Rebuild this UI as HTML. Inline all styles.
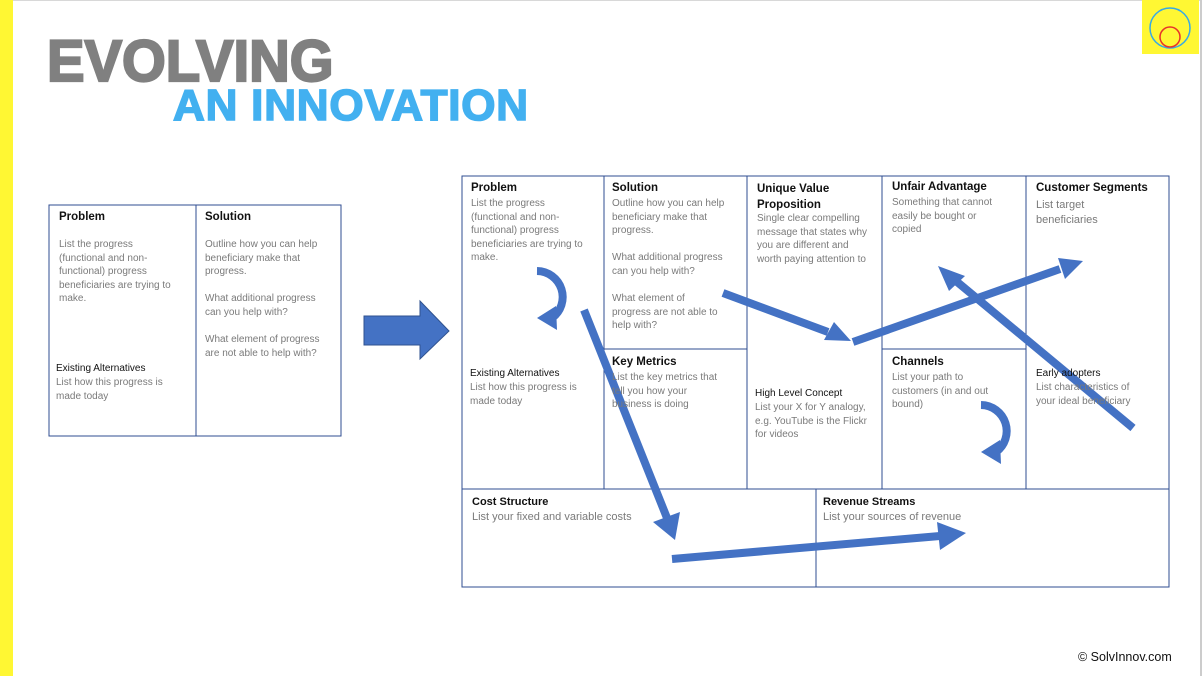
<!DOCTYPE html>
<html><head><meta charset="utf-8"><style>
body{margin:0;width:1202px;height:676px;overflow:hidden;background:#fff;position:relative;font-family:"Liberation Sans",sans-serif}
.t{position:absolute;font-size:10px;line-height:13.6px;color:#7a7a7a;white-space:nowrap}
.h{position:absolute;font-size:11.5px;font-weight:bold;color:#111;white-space:nowrap}
.s{position:absolute;font-size:10px;color:#111;white-space:nowrap}
</style></head><body>
<div style="position:absolute;left:0;top:0;width:1202px;height:1px;background:#d8d8d8"></div>
<div style="position:absolute;left:0;top:0;width:13px;height:676px;background:#fff733"></div>
<div style="position:absolute;right:0;top:0;width:2px;height:676px;background:#ccc"></div>
<div style="position:absolute;left:47px;top:27px;font-size:58px;line-height:1.2;font-weight:bold;color:#808080;letter-spacing:0px;-webkit-text-stroke:2.2px #808080;transform:scaleX(0.97);transform-origin:left;white-space:nowrap">EVOLVING</div>
<div style="position:absolute;left:173px;top:80px;font-size:44px;line-height:1.2;font-weight:bold;color:#42b0f0;letter-spacing:0.8px;-webkit-text-stroke:1.6px #42b0f0;white-space:nowrap">AN INNOVATION</div>
<div style="position:absolute;left:1142px;top:0;width:57px;height:54px;background:#fff733"></div>
<svg width="1202" height="676" style="position:absolute;left:0;top:0">
<circle cx="1170" cy="28" r="20" fill="none" stroke="#36a9e6" stroke-width="1.5"/>
<circle cx="1170" cy="37" r="10" fill="none" stroke="#e8332a" stroke-width="1.5"/>
<g fill="none" stroke="#2f4d92" stroke-width="1">
<rect x="49" y="205" width="292" height="231"/>
<line x1="196" y1="205" x2="196" y2="436"/>
<rect x="462" y="176" width="707" height="313"/>
<line x1="604" y1="176" x2="604" y2="489"/>
<line x1="747" y1="176" x2="747" y2="489"/>
<line x1="882" y1="176" x2="882" y2="489"/>
<line x1="1026" y1="176" x2="1026" y2="489"/>
<line x1="604" y1="349" x2="747" y2="349"/>
<line x1="882" y1="349" x2="1026" y2="349"/>
<rect x="462" y="489" width="707" height="98"/>
<line x1="816" y1="489" x2="816" y2="587"/>
</g>
<polygon points="364,316 420,316 420,301 449,331 420,359 420,345 364,345" fill="#4472c4" stroke="#2f528f" stroke-width="1"/>
<g stroke="#4472c4" stroke-width="8" fill="none">
<line x1="584" y1="310" x2="667" y2="518"/>
<line x1="672" y1="559" x2="940" y2="536"/>
<line x1="723" y1="293" x2="828" y2="332"/>
<line x1="853" y1="342" x2="1060" y2="269"/>
<line x1="1133" y1="428" x2="956" y2="281"/>
<path d="M537 271 A26 26 0 0 1 552 318"/>
<path d="M981 405 A26 26 0 0 1 996 452"/>
</g>
<g fill="#4472c4">
<polygon points="675,540 653,522 680,512"/>
<polygon points="966,533 937,522 940,550"/>
<polygon points="851,341 824,340 834,322"/>
<polygon points="1083,261 1058,258 1065,279"/>
<polygon points="938,266 965,276 949,291"/>
<polygon points="537,318 556,306 557,330"/>
<polygon points="981,452 1000,440 1001,464"/>
</g>
</svg>
<div class="h" style="left:59px;top:211px">Problem</div>
<div class="t" style="left:59px;top:238px">List the progress<br>(functional and non-<br>functional) progress<br>beneficiaries are trying to<br>make.</div>
<div class="s" style="left:56px;top:363px">Existing Alternatives</div>
<div class="t" style="left:56px;top:376px">List how this progress is<br>made today</div>
<div class="h" style="left:205px;top:211px">Solution</div>
<div class="t" style="left:205px;top:238px">Outline how you can help<br>beneficiary make that<br>progress.<br><br>What additional progress<br>can you help with?<br><br>What element of progress<br>are not able to help with?</div>

<div class="h" style="left:471px;top:182px">Problem</div>
<div class="t" style="left:471px;top:197px">List the progress<br>(functional and non-<br>functional) progress<br>beneficiaries are trying to<br>make.</div>
<div class="s" style="left:470px;top:368px">Existing Alternatives</div>
<div class="t" style="left:470px;top:381px">List how this progress is<br>made today</div>
<div class="h" style="left:612px;top:182px">Solution</div>
<div class="t" style="left:612px;top:197px">Outline how you can help<br>beneficiary make that<br>progress.<br><br>What additional progress<br>can you help with?<br><br>What element of<br>progress are not able to<br>help with?</div>
<div class="h" style="left:757px;top:181px;line-height:16px">Unique Value<br>Proposition</div>
<div class="t" style="left:757px;top:212px">Single clear compelling<br>message that states why<br>you are different and<br>worth paying attention to</div>
<div class="h" style="left:892px;top:181px">Unfair Advantage</div>
<div class="t" style="left:892px;top:196px">Something that cannot<br>easily be bought or<br>copied</div>
<div class="h" style="left:1036px;top:182px">Customer Segments</div>
<div class="t" style="left:1036px;top:198px;font-size:11px;line-height:15px">List target<br>beneficiaries</div>
<div class="h" style="left:612px;top:356px">Key Metrics</div>
<div class="t" style="left:612px;top:371px">List the key metrics that<br>tell you how your<br>business is doing</div>
<div class="s" style="left:755px;top:388px">High Level Concept</div>
<div class="t" style="left:755px;top:401px">List your X for Y analogy,<br>e.g. YouTube is the Flickr<br>for videos</div>
<div class="h" style="left:892px;top:356px">Channels</div>
<div class="t" style="left:892px;top:371px">List your path to<br>customers (in and out<br>bound)</div>
<div class="s" style="left:1036px;top:368px">Early adopters</div>
<div class="t" style="left:1036px;top:381px">List characteristics of<br>your ideal beneficiary</div>
<div class="h" style="left:472px;top:496px;font-size:11px">Cost Structure</div>
<div class="t" style="left:472px;top:511px;font-size:11px">List your fixed and variable costs</div>
<div class="h" style="left:823px;top:496px;font-size:11px">Revenue Streams</div>
<div class="t" style="left:823px;top:511px;font-size:11px">List your sources of revenue</div>
<div style="position:absolute;left:1078px;top:650px;font-size:12.5px;color:#111">© SolvInnov.com</div>
</body></html>
